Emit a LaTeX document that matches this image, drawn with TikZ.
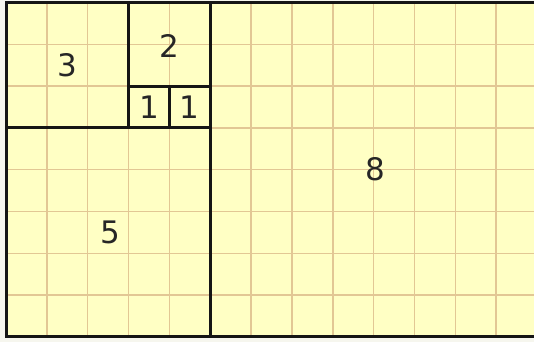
\documentclass[tikz,border=0pt]{standalone}
\usepackage{fontspec}
\setmainfont{DejaVu Sans}
\definecolor{paper}{HTML}{FFFFC4}
\definecolor{gridc}{HTML}{E2C794}
\definecolor{edge}{HTML}{151515}
\definecolor{margin}{HTML}{F6F6EE}
\begin{document}
\begin{tikzpicture}[x=40.85pt,y=-41.8pt,
  gridline/.style={draw=gridc,line width=1.5pt},
  tile/.style={draw=edge,line width=3pt},
  num/.style={font=\fontsize{31}{33}\selectfont,text=black!85,inner sep=0pt}]
\useasboundingbox (-0.1469,-0.0598) rectangle (12.925,8.122);
\clip (-0.1469,-0.0598) rectangle (12.925,8.122);
\fill[margin] (-0.1469,-0.0598) rectangle (12.925,8.122);
\fill[paper] (0,0) rectangle (13,8);
\foreach \i in {1,...,12} \draw[gridline] (\i,0) -- (\i,8);
\foreach \j in {1,...,7} \draw[gridline] (0,\j) -- (13,\j);
% squares
\draw[tile] (0,0) rectangle (3,3);
\draw[tile] (3,0) rectangle (5,2);
\draw[tile] (3,2) rectangle (4,3);
\draw[tile] (4,2) rectangle (5,3);
\draw[tile] (0,3) rectangle (5,8);
\draw[tile] (5,0) rectangle (13,8);
% labels
\node[num] (n3) at (1.5,1.5) {3};
\node[num] (n2) at (4,1.05) {2};
\node[num] (n1a) at (3.5,2.5) {1};
\node[num] (n1b) at (4.5,2.5) {1};
\node[num] (n5) at (2.55,5.5) {5};
\node[num] (n8) at (9.05,4) {8};
\end{tikzpicture}
\end{document}
